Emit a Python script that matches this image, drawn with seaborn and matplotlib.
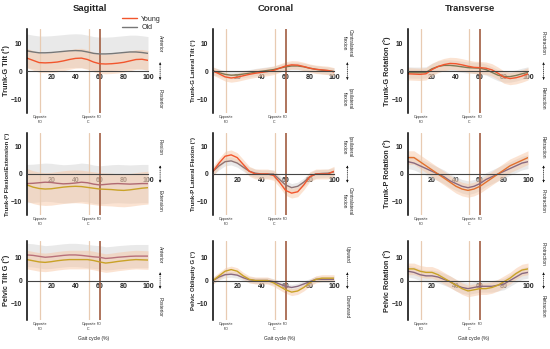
import seaborn as sns
import matplotlib.pyplot as plt
from matplotlib.lines import Line2D
from matplotlib.ticker import MultipleLocator
import matplotlib.transforms as mtransforms

# gait cycle (%) sampled every 5 %
gait = [0, 5, 10, 15, 20, 25, 30, 35, 40, 45, 50, 55, 60, 65, 70, 75, 80, 85, 90, 95, 100]

# --- Trunk-G ---
tg_tilt_young = [4.6, 3.8, 3.0, 2.9, 3.0, 3.2, 3.6, 4.1, 4.5, 4.6, 4.1, 3.2, 2.6, 2.5, 2.6, 2.8, 3.1, 3.6, 4.1, 4.2, 3.8]
tg_tilt_old = [7.2, 6.8, 6.5, 6.5, 6.6, 6.8, 7.0, 7.2, 7.3, 7.2, 6.8, 6.3, 6.1, 6.1, 6.2, 6.4, 6.6, 6.8, 6.8, 6.6, 6.3]
tg_lat_young = [0.0, -1.0, -2.1, -2.5, -2.2, -1.7, -1.2, -0.8, -0.5, -0.2, 0.2, 1.0, 1.8, 2.2, 2.1, 1.6, 1.0, 0.6, 0.4, 0.2, -0.3]
tg_lat_old = [0.0, -0.6, -1.2, -1.5, -1.4, -1.1, -0.8, -0.4, -0.1, 0.2, 0.5, 1.0, 1.5, 1.8, 1.8, 1.5, 1.0, 0.6, 0.3, 0.1, -0.2]
tg_rot_young = [-1.0, -1.1, -1.2, -1.0, 0.5, 1.6, 2.3, 2.7, 2.6, 2.2, 1.7, 1.3, 1.2, 1.0, 0.4, -0.8, -2.2, -2.7, -2.4, -1.8, -1.0]
tg_rot_old = [-0.5, -0.6, -0.6, -0.5, 0.8, 1.6, 2.0, 2.0, 1.8, 1.5, 1.2, 1.1, 1.0, 0.5, -0.5, -1.5, -2.0, -2.0, -1.6, -1.0, -0.5]

# --- Trunk-P ---
tp_flex_young = [-4.0, -4.8, -5.3, -5.5, -5.4, -5.1, -4.8, -4.6, -4.5, -4.6, -4.9, -5.2, -5.5, -5.6, -5.7, -5.9, -6.0, -5.8, -5.5, -5.2, -5.0]
tp_flex_old = [-3.5, -3.4, -3.2, -3.0, -3.1, -3.4, -3.6, -3.5, -3.3, -3.0, -3.2, -3.7, -4.0, -3.8, -3.6, -3.5, -3.6, -3.7, -3.6, -3.5, -3.5]
tp_lat_young = [1.0, 4.0, 6.5, 7.0, 6.0, 3.5, 1.0, 0.0, 0.0, 0.0, -0.5, -3.0, -6.0, -7.0, -6.5, -4.0, -1.0, 0.0, 0.0, 0.0, 1.0]
tp_lat_old = [1.0, 3.0, 4.5, 4.8, 4.0, 2.5, 1.0, 0.3, 0.0, 0.0, 0.0, -2.0, -4.0, -5.0, -4.5, -3.0, -1.0, 0.0, 0.2, 0.3, 0.8]
tp_rot_young = [6.0, 6.0, 4.5, 3.0, 1.5, 0.0, -1.5, -3.0, -4.5, -5.5, -6.0, -5.5, -4.5, -3.0, -1.5, 0.0, 1.5, 3.0, 4.0, 5.0, 6.0]
tp_rot_old = [4.5, 4.0, 3.0, 2.0, 1.0, 0.0, -1.0, -2.5, -3.5, -4.5, -5.0, -4.5, -3.5, -2.0, -1.0, 0.0, 1.0, 2.0, 3.0, 4.0, 4.5]

# --- Pelvis ---
pel_tilt_young = [9.0, 8.5, 8.0, 7.8, 8.1, 8.5, 8.8, 9.0, 9.0, 9.0, 9.0, 8.6, 8.0, 7.5, 7.8, 8.2, 8.5, 8.8, 9.0, 8.9, 8.8]
pel_tilt_old = [11.0, 10.8, 10.4, 10.0, 10.2, 10.5, 10.8, 11.0, 11.0, 10.8, 10.5, 10.2, 10.0, 9.5, 9.7, 10.0, 10.2, 10.4, 10.5, 10.5, 10.5]
pel_obl_young = [0.0, 2.0, 4.0, 4.7, 4.0, 2.0, 0.5, 0.0, 0.0, 0.0, -1.0, -2.5, -4.0, -5.0, -4.5, -3.0, -1.0, 0.5, 1.0, 1.0, 1.0]
pel_obl_old = [0.0, 1.5, 2.5, 2.7, 2.3, 1.2, 0.3, 0.0, 0.0, 0.0, -0.5, -1.5, -2.5, -3.0, -2.5, -1.5, -0.5, 0.5, 0.5, 0.5, 0.5]
pel_rot_young = [5.0, 5.0, 4.0, 3.5, 3.5, 2.5, 1.0, -0.5, -2.0, -3.5, -4.5, -4.0, -3.5, -3.5, -3.0, -2.0, -0.5, 1.0, 3.0, 4.5, 5.0]
pel_rot_old = [4.0, 3.5, 2.5, 2.0, 2.0, 1.5, 0.5, -0.5, -2.0, -3.0, -3.5, -3.0, -2.5, -2.5, -2.5, -2.0, -1.5, 0.0, 1.5, 3.0, 3.5]

# one SD per panel (row-major order)
young_sd = [3.5, 1.5, 2.2, 6.0, 1.8, 2.5, 4.0, 1.5, 2.5]
old_sd = [6.0, 1.3, 2.0, 7.0, 1.5, 2.5, 5.0, 1.3, 2.5]

ylabels = ["Trunk-G Tilt (°)", "Trunk-G Lateral Tilt (°)", "Trunk-G Rotation (°)",
           "Trunk-P Flexion/Extension (°)", "Trunk-P Lateral Flexion (°)", "Trunk-P Rotation (°)",
           "Pelvic Tilt G (°)", "Pelvic Obliquity G (°)", "Pelvic Rotation (°)"]
top_words = ["Anterior", "Contralateral\nflexion", "Protraction",
             "Flexion", "Ipsilateral\nflexion", "Retraction",
             "Anterior", "Upward", "Protraction"]
bottom_words = ["Posterior", "Ipsilateral\nflexion", "Retraction",
                "Extension", "Contralateral\nflexion", "Protraction",
                "Posterior", "Downward", "Retraction"]
col_titles = ["Sagittal", "Coronal", "Transverse"]
event_x = [11, 51, 60]
event_labels = ["Opposite\nFO", "Opposite\nIC", "FO"]

young_means = [tg_tilt_young, tg_lat_young, tg_rot_young,
               tp_flex_young, tp_lat_young, tp_rot_young,
               pel_tilt_young, pel_obl_young, pel_rot_young]
old_means = [tg_tilt_old, tg_lat_old, tg_rot_old,
             tp_flex_old, tp_lat_old, tp_rot_old,
             pel_tilt_old, pel_obl_old, pel_rot_old]

young_col = ["#f2562d", "#f2562d", "#f2562d",
             "#c9a227", "#f2562d", "#e2702d",
             "#c9a227", "#c9a227", "#c9a227"]
old_col = ["#777777", "#7f7650", "#7f7a55",
           "#b06a72", "#8f7474", "#8a6a80",
           "#b8707a", "#8a6a80", "#8a6a80"]

sns.set_style("white")
plt.rcParams['font.family'] = ['Liberation Sans', 'DejaVu Sans']

fig = plt.figure(figsize=(5.5, 3.49), dpi=100)

lefts = [27 / 550, 213 / 550, 408 / 550]
widths = [121 / 550, 121 / 550, 120 / 550]
rows = [(1 - 113 / 349, 84 / 349, 15), (1 - 215 / 349, 82 / 349, 15), (1 - 320 / 349, 79 / 349, 17)]
ann_x = [1.1, 1.11, 1.13]

for i in range(9):
    r, c = divmod(i, 3)
    bottom, height, lim = rows[r]
    ax = fig.add_axes([lefts[c], bottom, widths[c], height])

    y_lo = [m - old_sd[i] for m in old_means[i]]
    y_hi = [m + old_sd[i] for m in old_means[i]]
    ax.fill_between(gait, y_lo, y_hi, color="#cfcfcf", alpha=0.45, lw=0)
    y_lo = [m - young_sd[i] for m in young_means[i]]
    y_hi = [m + young_sd[i] for m in young_means[i]]
    ax.fill_between(gait, y_lo, y_hi, color="#f7c29d", alpha=0.45, lw=0)

    sns.lineplot(x=gait, y=old_means[i], color=old_col[i], lw=1.0, ax=ax)
    sns.lineplot(x=gait, y=young_means[i], color=young_col[i], lw=1.0, ax=ax)

    for k, ex in enumerate(event_x):
        if k == 2:
            ax.axvline(ex, color="#a8694f", lw=1.3, zorder=1)
        else:
            ax.axvline(ex, color="#e8cbb2", lw=0.9, zorder=1)

    ax.set_xlim(0, 100)
    ax.set_ylim(-lim, lim)
    ax.spines['top'].set_visible(False)
    ax.spines['right'].set_visible(False)
    ax.spines['bottom'].set_position(('data', 0))
    ax.spines['bottom'].set_linewidth(0.8)
    ax.spines['bottom'].set_color("#444444")
    ax.spines['left'].set_linewidth(1.1)
    ax.spines['left'].set_color("black")
    ax.set_xticks([20, 40, 60, 80, 100])
    ax.set_yticks([-10, 0, 10])
    ax.yaxis.set_minor_locator(MultipleLocator(1))
    ax.tick_params(axis='x', direction='in', length=2, width=0.6, pad=2, labelsize=5)
    ax.tick_params(axis='y', which='major', direction='out', length=2.5, width=0.8, pad=1, labelsize=4.8)
    ax.tick_params(axis='y', which='minor', direction='out', length=1.2, width=0.5)
    for lab in ax.get_xticklabels() + ax.get_yticklabels():
        lab.set_fontweight('bold')
    fs = 5.2 if len(ylabels[i]) < 22 else 4.3
    ax.set_ylabel(ylabels[i], fontsize=fs, fontweight='bold', labelpad=0.5)
    ax.set_xlabel("")

    trans = mtransforms.blended_transform_factory(ax.transData, ax.transAxes)
    for ex, el in zip(event_x, event_labels):
        ax.text(ex, -0.02, el, transform=trans, ha='center', va='top', fontsize=2.6, linespacing=1.4)

    ax.text(ann_x[c], 0.83, top_words[i], transform=ax.transAxes, rotation=-90,
            ha='center', va='center', fontsize=3.5, linespacing=1.2)
    ax.text(ann_x[c], 0.17, bottom_words[i], transform=ax.transAxes, rotation=-90,
            ha='center', va='center', fontsize=3.5, linespacing=1.2)
    ax.annotate('', xy=(ann_x[c], 0.64), xytext=(ann_x[c], 0.36), xycoords='axes fraction',
                textcoords='axes fraction',
                arrowprops=dict(arrowstyle='<|-|>', ls=':', lw=0.5, color='black', mutation_scale=3))

    if r == 2:
        fig.text(lefts[c] + widths[c] * 0.55, 0.03, "Gait cycle (%)", ha='center', va='center', fontsize=3.6)

for c, t in enumerate(col_titles):
    fig.text(lefts[c] + widths[c] * 0.52, 0.975, t, ha='center', va='center', fontsize=6.8, fontweight='bold')

handles = [Line2D([0], [0], color="#f2562d", lw=1), Line2D([0], [0], color="#777777", lw=1)]
fig.legend(handles, ["Young", "Old"], loc='upper left', bbox_to_anchor=(0.215, 0.965),
           frameon=False, fontsize=5, handlelength=2.2, labelspacing=0.2, handletextpad=0.6, borderpad=0)

fig.savefig("out.png", dpi=100)
